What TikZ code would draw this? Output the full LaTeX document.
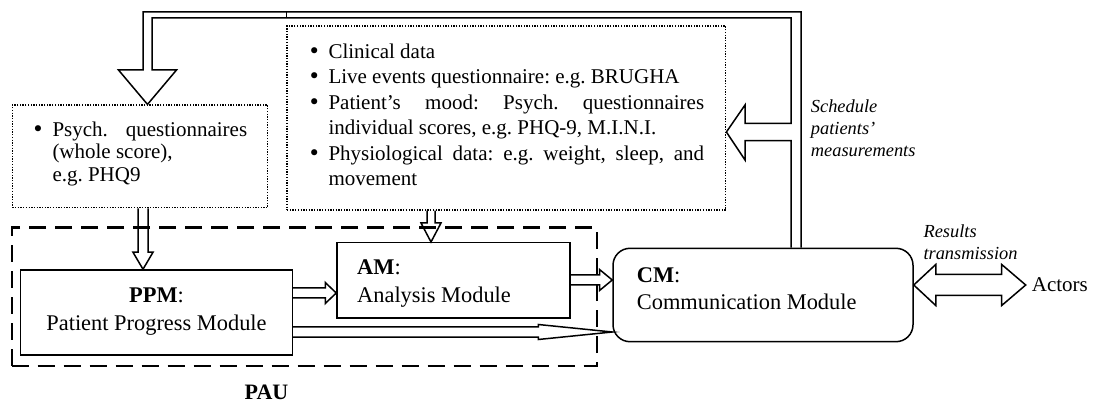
\documentclass[tikz,border=0pt]{standalone}
\usepackage{fontspec}
\setmainfont{Liberation Serif}
\newfontfamily\bulfont{DejaVu Sans}
\usetikzlibrary{calc}

\tikzset{
  box/.style={draw, line width=1.5pt, inner sep=0pt, rectangle},
  dotbox/.style={draw, line width=1.3pt, dash pattern=on 1.3pt off 1.4pt, inner sep=0pt, rectangle},
  pauframe/.style={draw, line width=2.2pt, dash pattern=on 17pt off 9pt, inner sep=0pt, rectangle},
  blk/.style={draw, line width=1.5pt, line join=miter},
  txt/.style={inner sep=0pt},
  modfont/.style={txt, font=\fontsize{22.4}{27}\selectfont},
}

% list bullet taken from a font with a rounder dot
\newcommand\bigbul{{\bulfont •}}
% one bullet paragraph with a hanging indent
\newcommand\bulitem[2]{\par\hangindent=#1\hangafter=1\noindent\makebox[#1][l]{\hspace{-2pt}\bigbul}#2\par}

% hollow block arrow pointing right: tail point, tip point, shaft half width, head half width, head length
\newcommand\arrowright[5]{%
  \draw[blk] let \p1=(#1), \p2=(#2) in
    ($(\x1,\y2)+(0,-#3)$) -- ($(\x2,\y2)+(-#5,-#3)$) -- ($(\x2,\y2)+(-#5,-#4)$) -- (\x2,\y2)
    -- ($(\x2,\y2)+(-#5,#4)$) -- ($(\x2,\y2)+(-#5,#3)$) -- ($(\x1,\y2)+(0,#3)$);}

% hollow block arrow pointing down
\newcommand\arrowdown[5]{%
  \draw[blk] let \p1=(#1), \p2=(#2) in
    ($(\x2,\y1)+(-#3,0)$) -- ($(\x2,\y2)+(-#3,-#5)$) -- ($(\x2,\y2)+(-#4,-#5)$) -- (\x2,\y2)
    -- ($(\x2,\y2)+(#4,-#5)$) -- ($(\x2,\y2)+(#3,-#5)$) -- ($(\x2,\y1)+(#3,0)$);}

\begin{document}
\begin{tikzpicture}[x=1pt, y=-1pt]
\useasboundingbox (0,0) rectangle (1095,403);

% data sources
\node[dotbox, minimum width=255.4pt, minimum height=102.7pt] (lbox) at (140,156.4) {};
\node[dotbox, minimum width=438.7pt, minimum height=184pt] (mbox) at (506.4,118) {};

\node[txt, anchor=base west] (ltext) at (33.8,136.5) {%
  \begin{minipage}[t]{213.2pt}\fontsize{21}{22.5}\selectfont\frenchspacing\hyphenpenalty=10000
  \bulitem{18.5pt}{Psych. questionnaires\linebreak (whole score),\\ e.g. PHQ9}
  \end{minipage}};

\node[txt, anchor=base west] (mtext) at (309.8,58.3) {%
  \begin{minipage}[t]{394.2pt}\fontsize{21}{25.5}\selectfont\frenchspacing\hyphenpenalty=10000
  \bulitem{18.5pt}{Clinical data}
  \bulitem{18.5pt}{Live events questionnaire: e.g. BRUGHA}
  \bulitem{18.5pt}{Patient’s mood: Psych. questionnaires\linebreak individual scores, e.g. PHQ-9, M.I.N.I.}
  \bulitem{18.5pt}{Physiological data: e.g. weight, sleep, and\linebreak movement}
  \end{minipage}};

% modules
\node[box, minimum width=271.6pt, minimum height=85pt] (ppm) at (156.5,312.5) {};
\node[box, minimum width=233pt, minimum height=75.3pt] (am) at (453.5,280.4) {};
\node[box, rounded corners=17pt, minimum width=300pt, minimum height=93.4pt] (cm) at (763,295) {};

\node[modfont, anchor=base] (ppm1) at (156.5,303) {\textbf{PPM}:};
\node[modfont, anchor=base] (ppm2) at (156.5,330.5) {Patient Progress Module};
\node[modfont, anchor=base west] (am1) at (357,275) {\textbf{AM}:};
\node[modfont, anchor=base west] (am2) at (357,302) {Analysis Module};
\node[modfont, anchor=base west] (cm1) at (636.7,283) {\textbf{CM}:};
\node[modfont, anchor=base west] (cm2) at (636.7,310) {Communication Module};

\node[txt, font=\fontsize{21}{25}\selectfont, anchor=base west] (actors) at (1031.7,292) {Actors};
\node[txt, font=\fontsize{22}{27}\selectfont\bfseries, anchor=base] (pau) at (266.5,399) {PAU};

% edge labels
\node[txt, anchor=base west] (sched) at (810.7,112.5) {%
  \begin{minipage}[t]{120pt}\fontsize{18.4}{22}\selectfont\itshape Schedule\\patients’\\measurements\end{minipage}};
\node[txt, anchor=base west] (results) at (923.3,238) {%
  \begin{minipage}[t]{120pt}\fontsize{18.4}{22}\selectfont\itshape Results\\transmission\end{minipage}};

% block arrows between the boxes
\arrowdown{lbox.south}{ppm.north -| 143,0}{5}{10}{17}
\arrowdown{mbox.south}{am.north -| 431,0}{4}{10}{19}
\arrowright{ppm.east}{am.west |- 0,293}{5}{10.5}{11}
\arrowright{am.east}{cm.west |- 0,280}{5}{10.5}{12.7}
\arrowright{ppm.east}{cm.west |- 0,332}{5}{7.5}{74}

% two-way arrow to the actors
\coordinate (ltip) at (cm.east |- 0,285);
\coordinate (rtip) at (1025.7,285);
\draw[blk] (ltip) -- ($(ltip)+(22,-20.5)$) -- ($(ltip)+(22,-10.5)$) -- ($(rtip)+(-24,-10.5)$)
  -- ($(rtip)+(-24,-20.5)$) -- (rtip) -- ($(rtip)+(-24,20.5)$) -- ($(rtip)+(-24,10.5)$)
  -- ($(ltip)+(22,10.5)$) -- ($(ltip)+(22,20.5)$) -- cycle;

% feedback from the communication module
\coordinate (fbR) at ($(cm.north)+(38,0)$);
\coordinate (fbL) at ($(cm.north)+(28,0)$);
\coordinate (ltop) at (lbox.north -| 147.5,0);
\coordinate (mtip) at (mbox.east |- 0,132);
\draw[blk] (fbR) -- (fbR |- 0,12) -- (143,12) -- (143,70) -- (118.5,70) -- (ltop)
  -- (176.5,70) -- (152,70) -- (152,18) -- (fbL |- 0,18) -- (fbL |- 0,123.3)
  -- (745,123.3) -- (745,105) -- (mtip) -- (745,160) -- (745,140.7)
  -- (fbL |- 0,140.7) -- (fbL);
\draw[line width=1.2pt] (mbox.west |- 0,12) -- (mbox.west |- 0,18);

% analysis unit frame
\node[pauframe, minimum width=585pt, minimum height=138.5pt] (pauframe) at (304.2,296.8) {};
\end{tikzpicture}
\end{document}
